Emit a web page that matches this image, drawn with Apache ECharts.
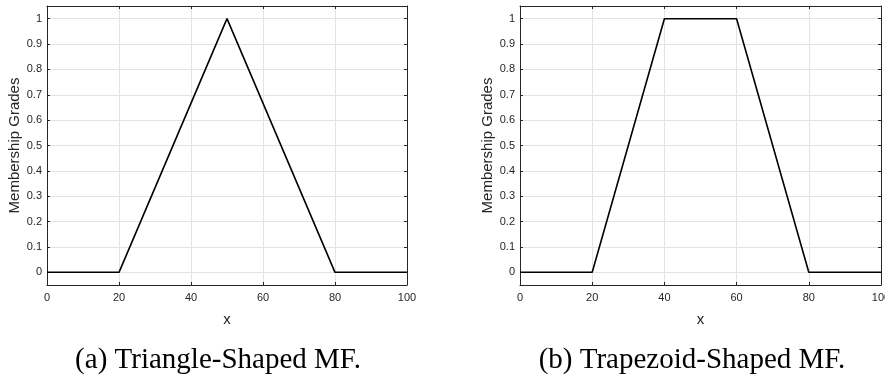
<!DOCTYPE html>
<html>
<head>
<meta charset="utf-8">
<script src="https://cdn.jsdelivr.net/npm/echarts@6/dist/echarts.min.js"></script>
<style>
html,body{margin:0;padding:0;background:#fff;}
#c{width:885px;height:381px;}
</style>
</head>
<body>
<div id="c"></div>
<script>
// Data
const triX = [0, 20, 50, 80, 100];
const triY = [0, 0, 1, 0, 0];
const trapX = [0, 20, 40, 60, 80, 100];
const trapY = [0, 0, 1, 1, 0, 0];
const yTicks = [0, 0.1, 0.2, 0.3, 0.4, 0.5, 0.6, 0.7, 0.8, 0.9, 1];
const xTicks = [0, 20, 40, 60, 80, 100];
const yName = 'Membership Grades';
const xName = 'x';
const captions = ['(a) Triangle-Shaped MF.', '(b) Trapezoid-Shaped MF.'];

const frame = '#262626';
const gridCol = '#e3e3e3';
const sans = 'Liberation Sans, Arial, sans-serif';

function pairs(xs, ys) { return xs.map((x, i) => [x, ys[i]]); }

const grids = [
  {left: 47, top: 6, width: 360, height: 279, containLabel: false, outerBoundsMode: 'none'},
  {left: 520, top: 6, width: 361, height: 279, containLabel: false, outerBoundsMode: 'none'}
];

const xAxes = [], yAxes = [];
grids.forEach((g, gi) => {
  // bottom x
  xAxes.push({
    type: 'value', gridIndex: gi, min: 0, max: 100, interval: 20, position: 'bottom',
    name: xName, nameLocation: 'middle', nameGap: 27,
    nameTextStyle: {fontFamily: sans, fontSize: 15, color: frame},
    axisLine: {show: true, onZero: false, lineStyle: {color: frame, width: 1}},
    axisTick: {show: true, inside: true, length: 3, customValues: xTicks, lineStyle: {color: frame}},
    axisLabel: {show: true, fontFamily: sans, fontSize: 11, color: frame, margin: 7, customValues: xTicks},
    splitLine: {show: true, lineStyle: {color: gridCol, width: 1}}
  });
  // top x (box)
  xAxes.push({
    type: 'value', gridIndex: gi, min: 0, max: 100, interval: 20, position: 'top',
    axisLine: {show: true, onZero: false, lineStyle: {color: frame, width: 1}},
    axisTick: {show: true, inside: true, length: 3, lineStyle: {color: frame}},
    axisLabel: {show: false}, splitLine: {show: false}
  });
  // left y
  yAxes.push({
    type: 'value', gridIndex: gi, min: -0.05, max: 1.05, position: 'left',
    name: yName, nameLocation: 'middle', nameGap: 25, nameRotate: 90,
    nameTextStyle: {fontFamily: sans, fontSize: 15, color: frame},
    axisLine: {show: true, onZero: false, lineStyle: {color: frame, width: 1}},
    axisTick: {show: true, inside: true, length: 3, customValues: yTicks, lineStyle: {color: frame}},
    axisLabel: {show: true, fontFamily: sans, fontSize: 11, color: frame, margin: 5, customValues: yTicks,
      formatter: v => String(Math.round(v * 10) / 10)},
    splitLine: {show: true, lineStyle: {color: gridCol, width: 1}}
  });
  // right y (box)
  yAxes.push({
    type: 'value', gridIndex: gi, min: -0.05, max: 1.05, position: 'right',
    axisLine: {show: true, onZero: false, lineStyle: {color: frame, width: 1}},
    axisTick: {show: true, inside: true, length: 3, customValues: yTicks, lineStyle: {color: frame}},
    axisLabel: {show: false, customValues: yTicks}, splitLine: {show: false}
  });
});

const chart = echarts.init(document.getElementById('c'), null, {renderer: 'canvas'});
chart.setOption({
  animation: false,
  backgroundColor: '#fff',
  grid: grids,
  xAxis: xAxes,
  yAxis: yAxes,
  series: [
    {type: 'line', xAxisIndex: 0, yAxisIndex: 0, data: pairs(triX, triY), symbol: 'none',
     lineStyle: {color: '#000', width: 1.6}, z: 5},
    {type: 'line', xAxisIndex: 2, yAxisIndex: 2, data: pairs(trapX, trapY), symbol: 'none',
     lineStyle: {color: '#000', width: 1.6}, z: 5}
  ],
  graphic: [
    {type: 'text', x: 218, y: 360, style: {text: captions[0], font: '29px "Liberation Serif", "Times New Roman", serif',
      fill: '#000', textAlign: 'center', textVerticalAlign: 'middle'}},
    {type: 'text', x: 692, y: 360, style: {text: captions[1], font: '29px "Liberation Serif", "Times New Roman", serif',
      fill: '#000', textAlign: 'center', textVerticalAlign: 'middle'}}
  ]
});
</script>
</body>
</html>
